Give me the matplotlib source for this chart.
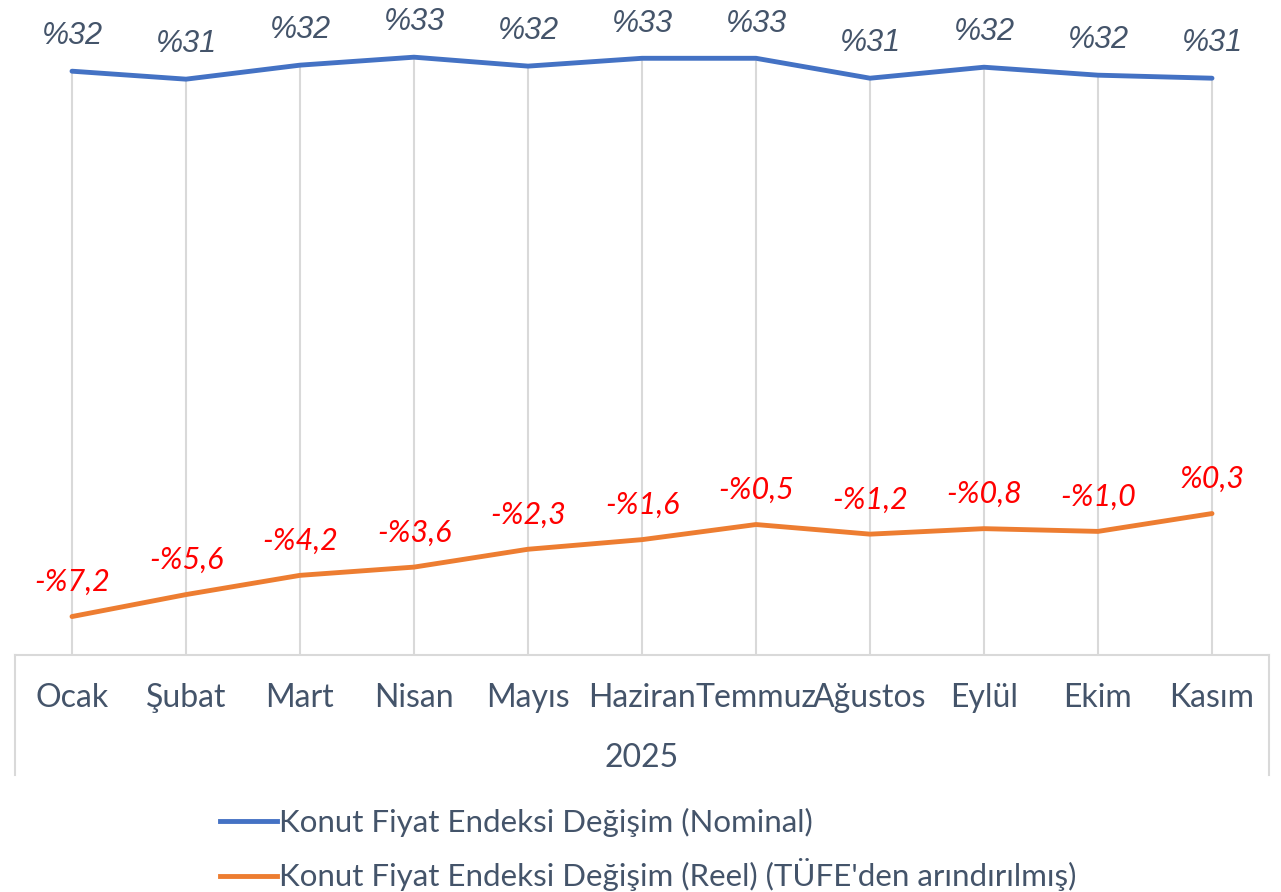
import matplotlib
matplotlib.use("Agg")
import matplotlib.pyplot as plt
from matplotlib.lines import Line2D

months = ['Ocak', 'Şubat', 'Mart', 'Nisan', 'Mayıs', 'Haziran', 'Temmuz',
          'Ağustos', 'Eylül', 'Ekim', 'Kasım']
year_label = '2025'
nominal = [31.96, 31.38, 32.4, 32.98, 32.33, 32.9, 32.9, 31.45, 32.25, 31.67, 31.45]
reel = [-7.2, -5.6, -4.2, -3.6, -2.3, -1.6, -0.5, -1.2, -0.8, -1.0, 0.3]
series_names = ['Konut Fiyat Endeksi Değişim (Nominal)',
                "Konut Fiyat Endeksi Değişim (Reel) (TÜFE'den arındırılmış)"]

BLUE = '#4472C4'
ORANGE = '#ED7D31'
TEXT = '#44546A'
GRID = '#D9D9D9'
FONT = 'Lato'

fig = plt.figure(figsize=(12.81, 8.92), dpi=100)
ax = fig.add_axes([15 / 1281, 1 - 655 / 892, 1254 / 1281, 618 / 892])
ax2 = ax.twinx()
ax.set_zorder(ax2.get_zorder() + 1)
ax.patch.set_visible(False)

x = list(range(len(months)))
ax.set_xlim(-0.5, len(months) - 0.5)
ax.set_ylim(-10, 35)
ax2.set_ylim(-10 - 0.55, 35 - 0.55)

# drop lines from the nominal series down to the axis
ax2.vlines(x, ax2.get_ylim()[0], nominal, color=GRID, lw=1.5, zorder=1)
ax2.plot(x, nominal, color=BLUE, lw=3.5, solid_capstyle='round', zorder=3)
ax.plot(x, reel, color=ORANGE, lw=3.5, solid_capstyle='round', zorder=3)

for xi, v in zip(x, nominal):
    ax2.annotate('%' + f'{v:.0f}', (xi, v), xytext=(0, 25), textcoords='offset points',
                 ha='center', va='center', fontsize=22, style='italic',
                 family='Liberation Sans', color=TEXT, annotation_clip=False)
for xi, v in zip(x, reel):
    s = ('-%' if v < 0 else '%') + f'{abs(v):.1f}'.replace('.', ',')
    ax.annotate(s, (xi, v), xytext=(0, 25), textcoords='offset points',
                ha='center', va='center', fontsize=22, style='italic',
                family=FONT, color='#FF0000', annotation_clip=False)

for a in (ax, ax2):
    for side in ('top', 'left', 'right'):
        a.spines[side].set_visible(False)
    a.set_yticks([])
ax2.spines['bottom'].set_visible(False)
ax.spines['bottom'].set_color(GRID)
ax.spines['bottom'].set_linewidth(1.5)

ax.set_xticks(x)
ax.set_xticklabels(months, fontsize=23, family=FONT, color=TEXT)
ax.tick_params(axis='x', length=0, pad=20)

# category group separators and year label
tr = ax.get_xaxis_transform()
for xe in ax.get_xlim():
    ax.plot([xe, xe], [0, -120 / 618], color=GRID, lw=1.5, transform=tr, clip_on=False)
ax.text(sum(ax.get_xlim()) / 2, -103 / 618, year_label, transform=tr, ha='center',
        va='center', fontsize=23, family=FONT, color=TEXT)

handles = [Line2D([], [], color=BLUE, lw=3.5), Line2D([], [], color=ORANGE, lw=3.5)]
fig.legend(handles, series_names, loc='upper center',
           bbox_to_anchor=(0.5 + 8 / 1281, 1 - 780 / 892),
           frameon=False, ncol=1, handlelength=1.8, handletextpad=0.08, labelspacing=0.68,
           prop={'family': FONT, 'size': 22.5}, labelcolor=TEXT)

fig.savefig('out.png', dpi=100)
